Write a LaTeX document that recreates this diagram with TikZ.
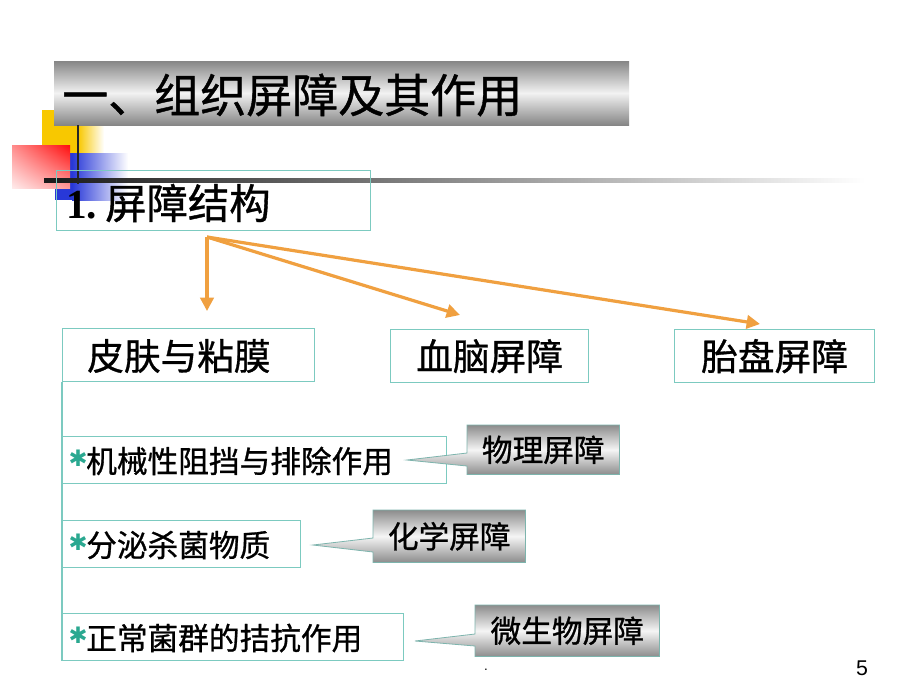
\documentclass[tikz,border=0pt]{standalone}
\usepackage{fontspec}
\setmainfont{Liberation Serif}
\newfontfamily\cjk{Noto Sans CJK SC}[FakeBold=0.9]
\newfontfamily\dv{DejaVu Sans}
\newfontfamily\lsans{Liberation Sans}
\usetikzlibrary{arrows.meta,shadings}
\definecolor{tealb}{HTML}{7CCAC0}
\definecolor{orng}{HTML}{F0A040}
\definecolor{starc}{HTML}{2AA890}
\definecolor{ylw}{HTML}{F8C800}
\definecolor{blu}{HTML}{2838D8}
\begin{document}
\begin{tikzpicture}[x=0.75pt,y=-0.75pt,
  bx/.style 2 args={draw=tealb, line width=0.9pt, rectangle, inner sep=0pt,
    anchor=north west, minimum width=#1*0.75pt, minimum height=#2*0.75pt},
  lbl/.style={anchor=west, inner sep=0pt, font=\cjk\fontsize{#1}{#1}\selectfont},
  arr/.style={orng, line width=2.4pt, -{Triangle[length=10pt,width=10pt]}},
  cbody/.style 2 args={rectangle, inner sep=0pt, anchor=north west,
    minimum width=#1*0.75pt, minimum height=#2*0.75pt},
  cshade/.style={top color=gray!90, bottom color=gray!90, middle color=gray!8,
    draw=tealb!70!gray, line width=0.6pt},
  ctext/.style={font=\cjk\fontsize{23}{23}\selectfont, inner sep=0pt},
  bul/.style={font=\dv\fontsize{17}{17}\selectfont, text=starc, inner sep=0pt, anchor=center}
]
\useasboundingbox (0,0) rectangle (920,690);
\fill[white] (0,0) rectangle (920,690);

% decorative squares
\shade[left color=ylw, right color=white] (78,110) rectangle (104,162);
\fill[ylw] (42,110) rectangle (79,162);
\shade[left color=blu, right color=white] (72,153) rectangle (128,200);
\fill[blu] (55,153) rectangle (73,200);
\shade[lower left=red!8, upper right=red!95, lower right=red!40, upper left=red!45] (12,145) rectangle (70,188);

% title bar
\shade[top color=gray!95, bottom color=gray!95, middle color=gray!10] (54,61) rectangle (629,125);
\node[lbl=34.5, anchor=west] (title) at (62,95) {一、组织屏障及其作用};

% lines of decoration
\draw[line width=2pt, black!85] (78,125) -- (78,184);
\shade[left color=black!90, right color=white] (44,178.5) rectangle (865,182);

% heading box
\node[bx={314}{60}] (head) at (56,170) {};
\node[anchor=west, inner sep=0pt, font=\fontsize{31}{31}\selectfont] (headtxt) at (66,203) {\textbf{1.}\hspace{6pt}{\cjk 屏障结构}};

% arrows
\coordinate (s) at (207,237);
\coordinate (t1) at (207,311);
\coordinate (t2) at (460,315);
\coordinate (t3) at (760,324);
\draw[arr] (s) -- (t1);
\draw[arr] (s) -- (t2);
\draw[arr] (s) -- (t3);

% three barrier boxes
\node[bx={252}{53}] (b1) at (62,328) {};
\node[lbl=27.5] (b1t) at (87,356) {皮肤与粘膜};
\node[bx={198}{53}] (b2) at (390,329) {};
\node[lbl=27.5, anchor=center] (b2t) at (b2.center) {血脑屏障};
\node[bx={200}{53}] (b3) at (674,329) {};
\node[lbl=27.5, anchor=center] (b3t) at (b3.center) {胎盘屏障};

% items
\node[bx={384}{47}] (i1) at (62,436) {};
\node[bx={238}{47}] (i2) at (62,520) {};
\node[bx={341}{47}] (i3) at (62,613) {};
\draw[draw=tealb, line width=0.9pt] (b1.south west) -- (i3.south west);
\node[bul] (s1) at (78,458) {✱};
\node[bul] (s2) at (78,542) {✱};
\node[bul] (s3) at (78,635) {✱};
\node[lbl=23] (i1t) at (86,461) {机械性阻挡与排除作用};
\node[lbl=23] (i2t) at (86,545) {分泌杀菌物质};
\node[lbl=23] (i3t) at (86,638) {正常菌群的拮抗作用};

% callouts
\node[cbody={152}{49}] (c1) at (467,425) {};
\coordinate (p1) at (407,460);
\shade[cshade] (c1.north east) -- (c1.north west) -- (467,453) -- (p1) -- (467,466) -- (c1.south west) -- (c1.south east) -- cycle;
\node[ctext] (c1t) at (c1.center) {物理屏障};

\node[cbody={152}{52}] (c2) at (373,510) {};
\coordinate (p2) at (313,545);
\shade[cshade] (c2.north east) -- (c2.north west) -- (373,538) -- (p2) -- (373,552) -- (c2.south west) -- (c2.south east) -- cycle;
\node[ctext] (c2t) at (c2.center) {化学屏障};

\node[cbody={184}{51}] (c3) at (475,605) {};
\coordinate (p3) at (415,641);
\shade[cshade] (c3.north east) -- (c3.north west) -- (475,634) -- (p3) -- (475,646) -- (c3.south west) -- (c3.south east) -- cycle;
\node[ctext] (c3t) at (c3.center) {微生物屏障};

% footer
\node[font=\lsans\fontsize{10}{10}\selectfont, inner sep=0pt] (dot) at (486,670) {.};
\node[font=\lsans\fontsize{16}{16}\selectfont, inner sep=0pt] (pg) at (862,668) {5};
\end{tikzpicture}
\end{document}
